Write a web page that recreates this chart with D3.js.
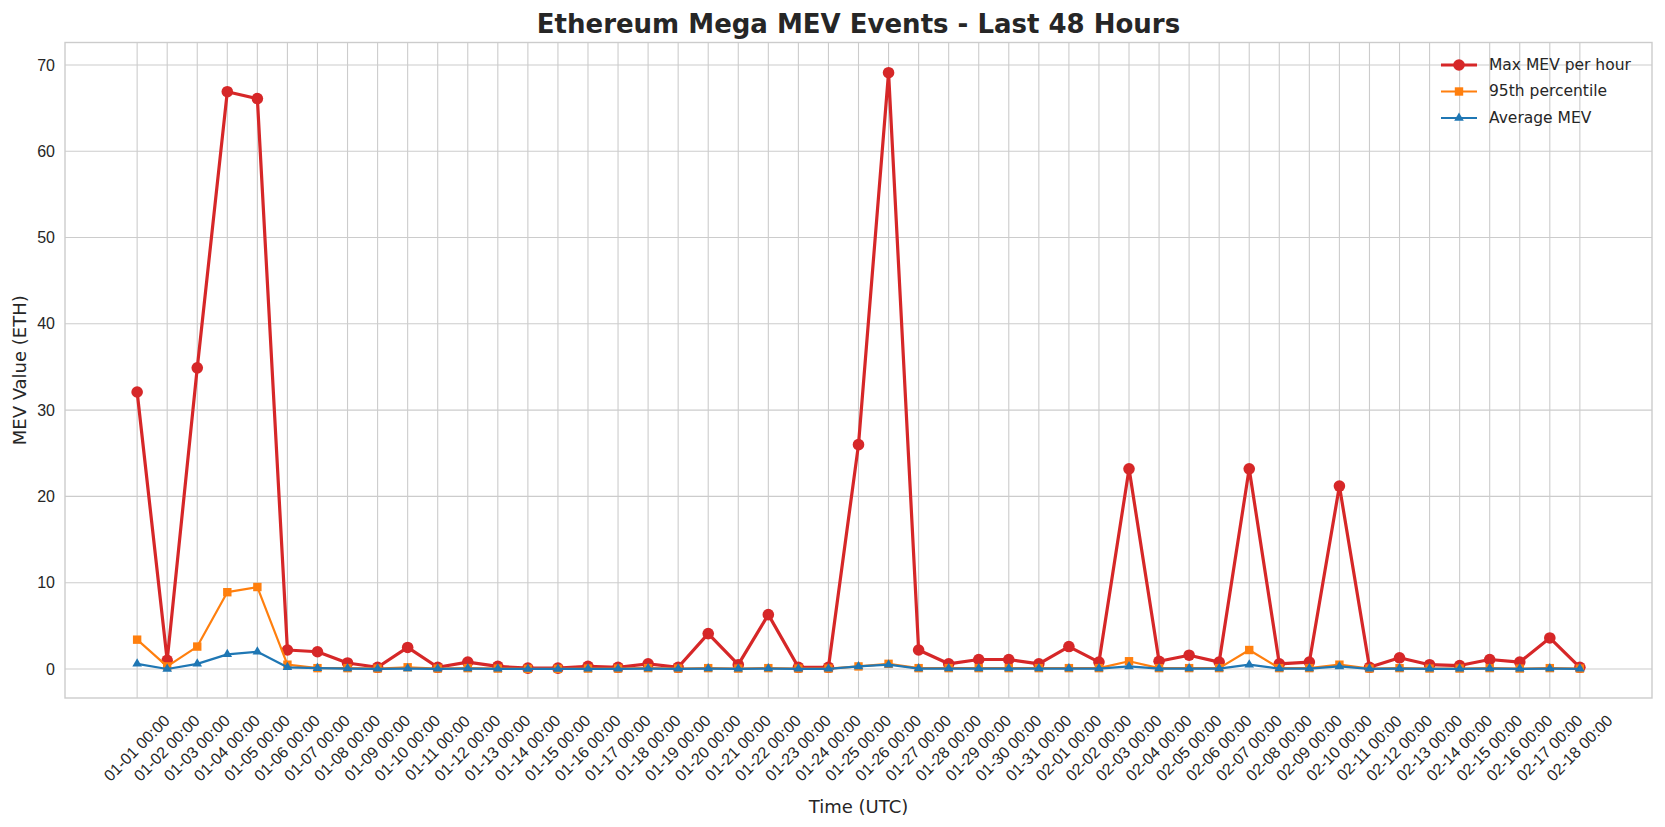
<!DOCTYPE html>
<html><head><meta charset="utf-8">
<script src="https://cdn.jsdelivr.net/npm/d3@7"></script>
<style>body{margin:0;background:#fff}svg{font-family:"DejaVu Sans",sans-serif}</style>
</head><body><svg id="c" width="1665" height="827"></svg>
<script>
const startDate = "2024-01-01";
const maxMev = [32.1,1.0,34.9,66.9,66.1,2.2,2.0,0.7,0.2,2.5,0.2,0.8,0.3,0.1,0.1,0.3,0.2,0.6,0.2,4.1,0.5,6.3,0.2,0.2,26.0,69.1,2.2,0.6,1.1,1.1,0.6,2.6,0.8,23.2,0.9,1.6,0.8,23.2,0.6,0.8,21.2,0.2,1.3,0.5,0.4,1.1,0.8,3.6,0.2];
const p95 = [3.4,0.3,2.6,8.9,9.5,0.5,0.1,0.1,0.05,0.2,0.05,0.1,0.05,0.02,0.02,0.05,0.05,0.1,0.05,0.1,0.05,0.1,0.05,0.05,0.3,0.6,0.1,0.1,0.1,0.1,0.1,0.1,0.1,0.9,0.1,0.1,0.1,2.2,0.1,0.1,0.5,0.05,0.1,0.05,0.05,0.1,0.05,0.1,0.05];
const avgMev = [0.6,0.0,0.6,1.7,2.0,0.2,0.1,0.05,0.02,0.05,0.02,0.05,0.02,0.01,0.01,0.02,0.02,0.05,0.02,0.05,0.02,0.05,0.02,0.02,0.3,0.5,0.05,0.05,0.05,0.05,0.05,0.05,0.05,0.3,0.05,0.05,0.05,0.5,0.05,0.05,0.3,0.02,0.05,0.02,0.02,0.05,0.02,0.05,0.02];
const yTicks = [0,10,20,30,40,50,60,70];
const title = "Ethereum Mega MEV Events - Last 48 Hours";

const parse = d3.utcParse("%Y-%m-%d");
const t0 = parse(startDate);
const dates = maxMev.map((_, i) => d3.utcDay.offset(t0, i));
const svg = d3.select("#c");
const L=65,R=1652,T=42.5,B=698;
const span = dates[dates.length-1]-dates[0];
const x = d3.scaleUtc().domain([new Date(+dates[0]-span*0.05), new Date(+dates[dates.length-1]+span*0.05)]).range([L,R]);
const y = d3.scaleLinear().domain([-3.36,72.6]).range([B,T]);
const fmt = d3.utcFormat("%m-%d %H:%M");

svg.append("g").selectAll("line").data(dates).join("line")
  .attr("x1",d=>x(d)).attr("x2",d=>x(d)).attr("y1",T).attr("y2",B).attr("stroke","#cccccc").attr("stroke-width",1.1);
svg.append("g").selectAll("line").data(yTicks).join("line")
  .attr("x1",L).attr("x2",R).attr("y1",d=>y(d)).attr("y2",d=>y(d)).attr("stroke","#cccccc").attr("stroke-width",1.1);
svg.append("rect").attr("x",L).attr("y",T).attr("width",R-L).attr("height",B-T).attr("fill","none").attr("stroke","#cccccc").attr("stroke-width",1.4);

const ya = svg.append("g").attr("transform",`translate(${L},0)`).call(d3.axisLeft(y).tickValues(yTicks).tickSize(0).tickPadding(10));
ya.select(".domain").remove();
ya.selectAll("text").attr("font-size",16).attr("fill","#262626");
const xa = svg.append("g").attr("transform",`translate(0,${B})`).call(d3.axisBottom(x).tickValues(dates).tickFormat(fmt).tickSize(0));
xa.select(".domain").remove();
xa.selectAll("text").attr("font-size",16).attr("fill","#262626")
  .attr("text-anchor","middle").attr("dy",0).attr("y",0)
  .attr("transform","translate(0,51) rotate(-45)").attr("dominant-baseline","middle");

const series = [
  {name:"Max MEV per hour", data:maxMev, color:"#d62728", w:3.2, m:"circle", s:5.8},
  {name:"95th percentile", data:p95, color:"#ff7f0e", w:2.2, m:"square", s:4.2},
  {name:"Average MEV", data:avgMev, color:"#1f77b4", w:2.2, m:"triangle", s:4.7}
];
function drawMarker(g, type, cx, cy, s, color){
  if(type==="circle") g.append("circle").attr("cx",cx).attr("cy",cy).attr("r",s).attr("fill",color);
  else if(type==="square") g.append("rect").attr("x",cx-s).attr("y",cy-s).attr("width",2*s).attr("height",2*s).attr("fill",color);
  else g.append("path").attr("d",d3.symbol(d3.symbolTriangle, s*s*1.8)()).attr("transform",`translate(${cx},${cy})`).attr("fill",color);
}
series.forEach(sr=>{
  const g = svg.append("g");
  g.append("path").datum(sr.data).attr("fill","none").attr("stroke",sr.color).attr("stroke-width",sr.w).attr("stroke-linejoin","round")
   .attr("d",d3.line().x((d,i)=>x(dates[i])).y(d=>y(d)));
  sr.data.forEach((d,i)=>drawMarker(g,sr.m,x(dates[i]),y(d),sr.s,sr.color));
});

svg.append("text").attr("x",(L+R)/2).attr("y",33).attr("text-anchor","middle").attr("font-size",26).attr("font-weight","bold").attr("fill","#262626").text(title);
svg.append("text").attr("x",(L+R)/2).attr("y",813).attr("text-anchor","middle").attr("font-size",18).attr("fill","#262626").text("Time (UTC)");
svg.append("text").attr("transform",`translate(26,${(T+B)/2}) rotate(-90)`).attr("text-anchor","middle").attr("font-size",18).attr("fill","#262626").text("MEV Value (ETH)");

series.forEach((sr,i)=>{
  const ly = 65 + i*26.5;
  const g = svg.append("g");
  g.append("line").attr("x1",1441).attr("x2",1477).attr("y1",ly).attr("y2",ly).attr("stroke",sr.color).attr("stroke-width",sr.w);
  drawMarker(g,sr.m,1459,ly,sr.s,sr.color);
  g.append("text").attr("x",1489).attr("y",ly).attr("dominant-baseline","middle").attr("font-size",15.5).attr("fill","#262626").text(sr.name);
});
</script></body></html>
